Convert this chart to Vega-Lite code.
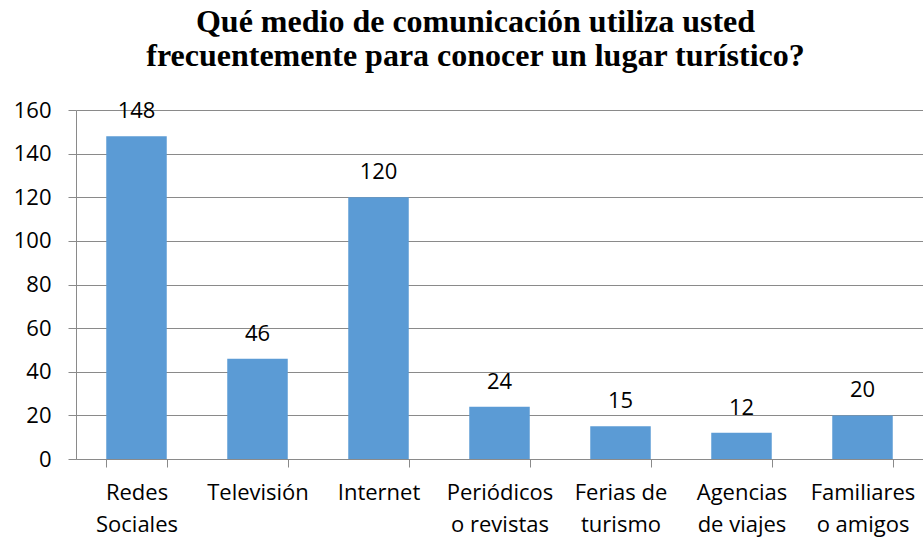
{
  "$schema": "https://vega.github.io/schema/vega-lite/v6.json",
  "width": 847,
  "height": 349,
  "autosize": {"type": "none"},
  "padding": {"left": 76, "top": 110, "right": 0, "bottom": 81},
  "background": "white",
  "title": {
    "text": ["Qué medio de comunicación utiliza usted", "frecuentemente para conocer un lugar turístico?"],
    "font": "Liberation Serif, Times New Roman, serif",
    "fontSize": 32,
    "fontWeight": "bold",
    "color": "black",
    "anchor": "middle",
    "dx": -24,
    "offset": 26,
    "lineHeight": 34
  },
  "data": {
    "values": [
      {"medio": "Redes\nSociales", "valor": 148},
      {"medio": "Televisión", "valor": 46},
      {"medio": "Internet", "valor": 120},
      {"medio": "Periódicos\no revistas", "valor": 24},
      {"medio": "Ferias de\nturismo", "valor": 15},
      {"medio": "Agencias\nde viajes", "valor": 12},
      {"medio": "Familiares\no amigos", "valor": 20}
    ]
  },
  "config": {
    "view": {"stroke": null},
    "axis": {
      "labelFont": "Open Sans",
      "labelFontSize": 22,
      "labelColor": "black",
      "domainColor": "#8a8a8a",
      "tickColor": "#8a8a8a",
      "gridColor": "#8a8a8a",
      "domainWidth": 1,
      "tickWidth": 1,
      "gridWidth": 1
    }
  },
  "encoding": {
    "x": {
      "field": "medio",
      "type": "nominal",
      "sort": null,
      "scale": {"paddingInner": 0.5, "paddingOuter": 0.25},
      "axis": {
        "title": null,
        "labelAngle": 0,
        "labelExpr": "split(datum.label, '\\n')",
        "labelLineHeight": 32,
        "labelPadding": 15,
        "labelBaseline": "top",
        "tickSize": 8,
        "tickBand": "extent",
        "grid": false
      }
    },
    "y": {
      "field": "valor",
      "type": "quantitative",
      "scale": {"domain": [0, 160]},
      "axis": {
        "title": null,
        "values": [0, 20, 40, 60, 80, 100, 120, 140, 160],
        "tickSize": 8,
        "labelPadding": 17,
        "grid": true
      }
    }
  },
  "layer": [
    {"mark": {"type": "bar", "color": "#5B9BD5"}},
    {
      "mark": {"type": "text", "font": "Open Sans", "fontSize": 22, "color": "black", "baseline": "alphabetic", "dy": -18},
      "encoding": {"text": {"field": "valor", "type": "quantitative"}}
    }
  ]
}
